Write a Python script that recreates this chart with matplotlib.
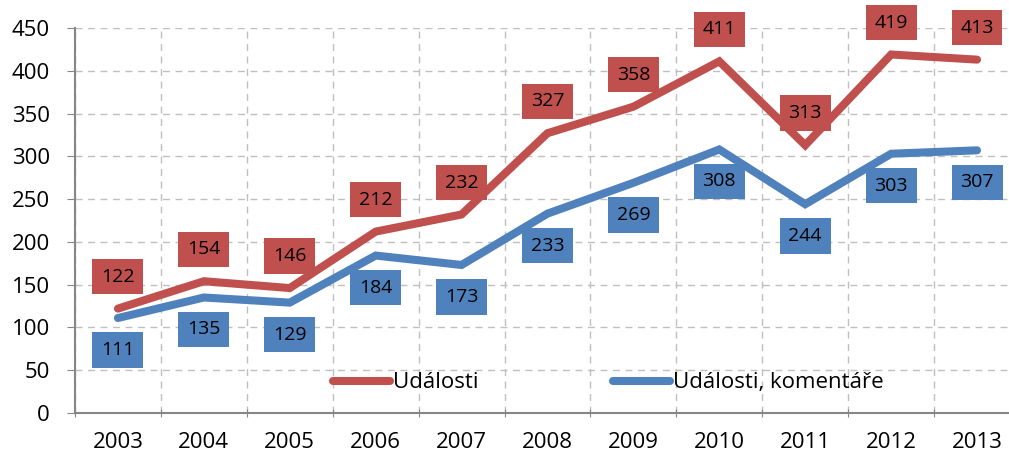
import matplotlib.pyplot as plt
import numpy as np

years = ["2003", "2004", "2005", "2006", "2007", "2008", "2009", "2010", "2011", "2012", "2013"]
udalosti = [122, 154, 146, 212, 232, 327, 358, 411, 313, 419, 413]
komentare = [111, 135, 129, 184, 173, 233, 269, 308, 244, 303, 307]

red = "#C0504D"
blue = "#4F81BD"
plt.rcParams['font.family'] = ['Open Sans', 'DejaVu Sans']

fig = plt.figure(figsize=(10.09, 4.57), dpi=100)
ax = fig.add_axes([0.0743, 0.0963, 0.9366, 0.8425])
x = np.arange(len(years))

ax.plot(x, udalosti, color=red, lw=5.8, solid_capstyle="round", solid_joinstyle="miter", label="Události", zorder=3)
ax.plot(x, komentare, color=blue, lw=5.8, solid_capstyle="round", solid_joinstyle="miter", label="Události, komentáře", zorder=3)

# data labels in coloured boxes
for xi, v in zip(x, udalosti):
    ax.annotate(str(v), (xi, v), xytext=(0, 23), textcoords="offset points", ha="center", va="center",
                fontsize=14, color="black", zorder=4,
                bbox=dict(boxstyle="square,pad=0.45", fc=red, ec="none"))
for xi, v in zip(x, komentare):
    ax.annotate(str(v), (xi, v), xytext=(0, -23), textcoords="offset points", ha="center", va="center",
                fontsize=14, color="black", zorder=4,
                bbox=dict(boxstyle="square,pad=0.45", fc=blue, ec="none"))

ax.set_xlim(-0.5, len(years) - 0.5)
ax.set_ylim(0, 450)
ax.set_yticks(range(0, 451, 50))
ax.set_xticks(np.arange(-0.5, len(years), 1))
ax.set_xticklabels([])
ax.set_xticks(x, minor=True)
ax.set_xticklabels(years, minor=True)
ax.tick_params(axis="x", which="minor", length=0, pad=14, labelsize=16)
ax.tick_params(axis="x", which="major", length=6, color="#868686", direction="inout")
ax.tick_params(axis="y", length=6, color="#868686", direction="out", labelsize=16, pad=12)

ax.grid(True, which="major", color="#BFBFBF", linestyle=(0, (5, 4)), lw=1)
ax.set_axisbelow(True)
for s in ["top", "right"]:
    ax.spines[s].set_visible(False)
for s in ["left", "bottom"]:
    ax.spines[s].set_color("#868686")
    ax.spines[s].set_linewidth(1.5)

ax.legend(loc="center", bbox_to_anchor=(0.564, 0.078), ncol=2, frameon=False, fontsize=16,
          handlelength=2.6, handletextpad=0.1, columnspacing=6.05)

plt.savefig("out.png", dpi=100)
